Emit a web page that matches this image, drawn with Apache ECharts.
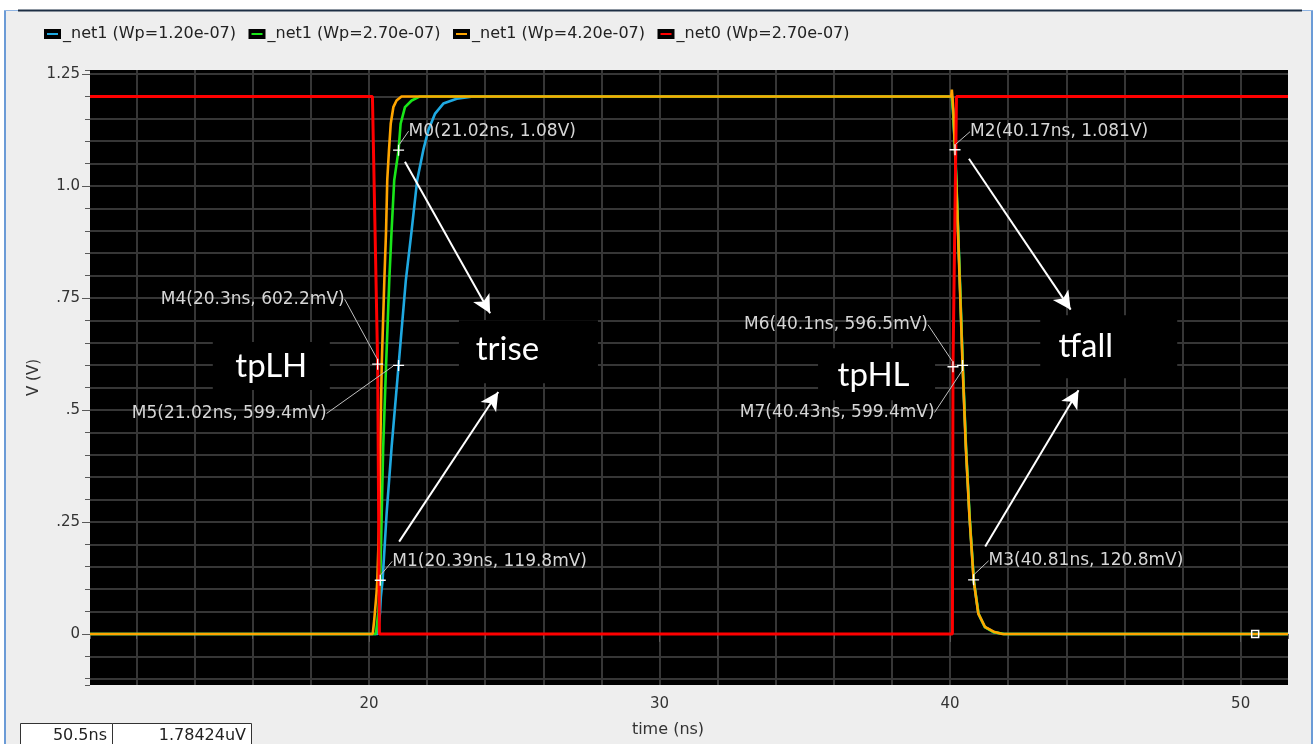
<!DOCTYPE html>
<html>
<head>
<meta charset="utf-8">
<script src="https://cdn.jsdelivr.net/npm/echarts@6/dist/echarts.min.js"></script>
<style>
  html, body { margin: 0; padding: 0; background: #ffffff; }
  #chart { width: 1315px; height: 744px; }
</style>
</head>
<body>
<div id="chart"></div>
<script>
// ---- waveform data (time in ns, voltage in V) ----
const seriesNames = ['_net1 (Wp=1.20e-07)', '_net1 (Wp=2.70e-07)', '_net1 (Wp=4.20e-07)', '_net0 (Wp=2.70e-07)'];

const tNet1Wp120 = [10.4, 20.3, 20.38, 20.41, 20.47, 20.61, 20.78, 21.02, 21.27, 21.47, 21.66, 21.87, 22.04, 22.27, 22.56, 23.02, 23.59,
                    40.06, 40.1, 40.18, 40.27, 40.34, 40.44, 40.55, 40.67, 40.82, 40.98, 41.2, 41.5, 41.85, 51.63];
const vNet1Wp120 = [0, 0, 0.047, 0.083, 0.12, 0.27, 0.417, 0.5994, 0.79, 0.901, 1.013, 1.08, 1.124, 1.161, 1.184, 1.195, 1.2,
                    1.2, 1.17, 1.07, 0.91, 0.78, 0.59, 0.41, 0.26, 0.115, 0.044, 0.015, 0.004, 0, 0];

const tNet1Wp270 = [10.4, 20.24, 20.32, 20.39, 20.44, 20.49, 20.59, 20.7, 20.78, 20.87, 21.02, 21.09, 21.24, 21.47, 21.76,
                    40.06, 40.1, 40.18, 40.27, 40.34, 40.44, 40.55, 40.67, 40.82, 40.98, 41.2, 41.5, 41.85, 51.63];
const vNet1Wp270 = [0, 0, 0.047, 0.1198, 0.27, 0.417, 0.6, 0.79, 0.901, 1.013, 1.08, 1.139, 1.176, 1.191, 1.2,
                    1.2, 1.17, 1.075, 0.915, 0.785, 0.595, 0.415, 0.265, 0.118, 0.045, 0.015, 0.004, 0, 0];

const tNet1Wp420 = [10.4, 20.13, 20.18, 20.26, 20.29, 20.36, 20.39, 20.44, 20.53, 20.59, 20.63, 20.69, 20.75, 20.84, 20.95, 21.12,
                    40.04, 40.06, 40.08, 40.12, 40.17, 40.26, 40.33, 40.43, 40.54, 40.66, 40.81, 40.97, 41.2, 41.5, 41.8, 51.63];
const vNet1Wp420 = [0, 0, 0.03, 0.09, 0.12, 0.27, 0.417, 0.6, 0.79, 0.901, 1.013, 1.08, 1.139, 1.176, 1.191, 1.2,
                    1.2, 1.215, 1.2, 1.16, 1.081, 0.92, 0.79, 0.6, 0.42, 0.27, 0.1208, 0.046, 0.016, 0.005, 0, 0];

const tNet0 = [10.4, 20.12, 20.3, 20.36, 40.08, 40.1, 40.22, 51.63];
const vNet0 = [1.2, 1.2, 0.6022, 0, 0, 0.5965, 1.2, 1.2];

// ---- measurement markers ----
const markerNames = ['M0', 'M1', 'M2', 'M3', 'M4', 'M5', 'M6', 'M7'];
const markerTimes = [21.02, 20.39, 40.17, 40.81, 20.3, 21.02, 40.1, 40.43];
const markerVolts = [1.08, 0.1198, 1.081, 0.1208, 0.6022, 0.5994, 0.5965, 0.5994];

// ---- annotation notes and arrows (data coordinates) ----
const noteNames = ['tpLH', 'trise', 'tpHL', 'tfall'];
const noteTimes = [16.64, 25.49, 37.47, 45.46];
const noteVolts = [0.598, 0.630, 0.580, 0.641];
const arrowFrom = [[21.24, 1.054], [21.04, 0.206], [40.65, 1.061], [41.21, 0.195]];
const arrowTo   = [[24.17, 0.716], [24.45, 0.540], [44.15, 0.724], [44.42, 0.544]];

// ---- cursor readout ----
const cursorTime = 50.5;
const cursorValue = 1.78424e-6;
const cursorValueText = '1.78424uV';

// ---- axis ticks ----
const xTickValues = [20, 30, 40, 50];
const xTickLabels = ['20', '30', '40', '50'];
const yTickValues = [0, 0.25, 0.5, 0.75, 1.0, 1.25];
const yTickLabels = ['0', '.25', '.5', '.75', '1.0', '1.25'];

// ---- styling ----
const seriesColors = ['#1fa9e1', '#19e619', '#ffa500', '#ff0000'];
const uiFont = 'DejaVu Sans';
const X_MIN = 10.4, X_MAX = 51.63, Y_MIN = -0.114, Y_MAX = 1.259;

const markerLabelDx = [10, 12, 15, 15, -33, -72, -25, -28];
const markerLabelDy = [-19, -19, -18, -19, -65, 48, -42, 47];
const markerLabelAlign = ['left', 'left', 'left', 'left', 'right', 'right', 'right', 'right'];
const noteBoxSizes = [[117, 48], [139, 63], [117, 52], [137, 63]];
const noteTextOffsets = [[0, 0], [-21, -2], [-3, 1], [-23, 0]];

function zip(ts, vs) { return ts.map((t, i) => [t, vs[i]]); }
function tickLabel(values, labels) {
  return function (v) {
    for (let i = 0; i < values.length; i++) {
      if (Math.abs(values[i] - v) < 1e-9) return labels[i];
    }
    return '';
  };
}
function fmtVolt(v) {
  return v >= 1 ? v + 'V' : (v * 1000).toFixed(1) + 'mV';
}

const waveData = [zip(tNet1Wp120, vNet1Wp120), zip(tNet1Wp270, vNet1Wp270), zip(tNet1Wp420, vNet1Wp420), zip(tNet0, vNet0)];

const chart = echarts.init(document.getElementById('chart'), null, { renderer: 'canvas' });

const tickColor = '#5a5a5a';
const gridLineColor = '#363636';

const waveSeries = waveData.map((d, i) => ({
  type: 'line',
  name: seriesNames[i],
  data: d,
  xAxisIndex: 0,
  yAxisIndex: 0,
  showSymbol: false,
  symbol: 'none',
  clip: true,
  lineStyle: { color: seriesColors[i], width: i === 3 ? 3 : 2.6 },
  itemStyle: { color: seriesColors[i] },
  z: 2 + i * 0.1,
  silent: true
}));

// legend drawn as swatch + text groups
const legendGraphics = [];
seriesNames.forEach((n, i) => {
  const x0 = 44 + i * 204.5;
  legendGraphics.push({ type: 'rect', shape: { x: x0, y: 29, width: 17, height: 10 }, style: { fill: '#000' } });
  legendGraphics.push({ type: 'rect', shape: { x: x0 + 3, y: 33, width: 11, height: 2 }, style: { fill: seriesColors[i] } });
  legendGraphics.push({ type: 'text', x: x0 + 19, y: 34, style: { text: n, fill: '#222', font: '16px "DejaVu Sans"', verticalAlign: 'middle', align: 'left' } });
});

const frameGraphics = [
  { type: 'rect', shape: { x: 0, y: 0, width: 1315, height: 10 }, style: { fill: '#ffffff' }, z: 100 },
  { type: 'rect', shape: { x: 0, y: 0, width: 4, height: 744 }, style: { fill: '#ffffff' }, z: 100 },
  { type: 'rect', shape: { x: 1313, y: 0, width: 2, height: 744 }, style: { fill: '#ffffff' }, z: 100 },
  { type: 'line', shape: { x1: 5, y1: 10, x2: 5, y2: 744 }, style: { stroke: '#6b9bd6', lineWidth: 2 }, z: 101 },
  { type: 'line', shape: { x1: 1312, y1: 10, x2: 1312, y2: 744 }, style: { stroke: '#6b9bd6', lineWidth: 2 }, z: 101 },
  { type: 'line', shape: { x1: 4, y1: 10.5, x2: 1313, y2: 10.5 }, style: { stroke: '#8fb4e3', lineWidth: 1 }, z: 101 },
  { type: 'line', shape: { x1: 18, y1: 10.5, x2: 1302, y2: 10.5 }, style: { stroke: '#1d2e44', lineWidth: 2 }, z: 102 },
  // cursor readout boxes
  { type: 'rect', shape: { x: 20.5, y: 723.5, width: 92, height: 22 }, style: { fill: '#ffffff', stroke: '#333', lineWidth: 1 }, z: 100 },
  { type: 'rect', shape: { x: 112.5, y: 723.5, width: 139, height: 22 }, style: { fill: '#ffffff', stroke: '#333', lineWidth: 1 }, z: 100 },
  { type: 'text', x: 107, y: 736, style: { text: cursorTime + 'ns', fill: '#222', font: '16px "DejaVu Sans"', align: 'right', verticalAlign: 'middle' }, z: 101 },
  { type: 'text', x: 246, y: 736, style: { text: cursorValueText, fill: '#222', font: '16px "DejaVu Sans"', align: 'right', verticalAlign: 'middle' }, z: 101 }
];

const option = {
  animation: false,
  backgroundColor: '#eeeeee',
  grid: {
    left: 90, top: 70, width: 1198, height: 615,
    show: true, backgroundColor: '#000000', borderWidth: 0,
    containLabel: false
  },
  xAxis: [
    {
      type: 'value', position: 'bottom', min: X_MIN, max: X_MAX,
      minInterval: 10, maxInterval: 10,
      axisLine: { show: false },
      splitLine: { show: false },
      axisTick: { show: true, length: 8, customValues: xTickValues, lineStyle: { color: tickColor, width: 1 } },
      axisLabel: { customValues: xTickValues, formatter: tickLabel(xTickValues, xTickLabels), color: '#333', fontSize: 15, fontFamily: uiFont, margin: 12 },
      name: 'time (ns)', nameLocation: 'middle', nameGap: 37,
      nameTextStyle: { color: '#333', fontSize: 16, fontFamily: uiFont, padding: [0, 42, 0, 0] }
    },
    {
      type: 'value', position: 'bottom', min: X_MIN, max: X_MAX,
      minInterval: 2, maxInterval: 2,
      axisLine: { show: false },
      axisLabel: { show: false },
      axisTick: { show: true, length: 5, lineStyle: { color: tickColor, width: 1 } },
      splitLine: { show: true, showMinLine: false, showMaxLine: false, lineStyle: { color: gridLineColor, width: 2 } }
    }
  ],
  yAxis: [
    {
      type: 'value', position: 'left', min: Y_MIN, max: Y_MAX,
      minInterval: 0.25, maxInterval: 0.25,
      axisLine: { show: false },
      splitLine: { show: false },
      axisTick: { show: true, length: 8, customValues: yTickValues, lineStyle: { color: tickColor, width: 1 } },
      axisLabel: { customValues: yTickValues, formatter: tickLabel(yTickValues, yTickLabels), color: '#333', fontSize: 15, fontFamily: uiFont, margin: 10 },
      name: 'V (V)', nameLocation: 'middle', nameGap: 48, nameRotate: 90, nameMoveOverlap: false,
      nameTextStyle: { color: '#333', fontSize: 15, fontFamily: uiFont }
    },
    {
      type: 'value', position: 'left', min: Y_MIN, max: Y_MAX,
      minInterval: 0.05, maxInterval: 0.05,
      axisLine: { show: false },
      axisLabel: { show: false },
      axisTick: { show: true, length: 5, lineStyle: { color: tickColor, width: 1 } },
      splitLine: { show: true, showMinLine: false, showMaxLine: false, lineStyle: { color: gridLineColor, width: 2 } }
    }
  ],
  graphic: { elements: legendGraphics.concat(frameGraphics) },
  series: waveSeries.concat([
    {
      type: 'scatter',
      name: 'notes',
      xAxisIndex: 0, yAxisIndex: 0,
      silent: true,
      symbol: 'rect',
      z: 3,
      itemStyle: { color: '#000000', opacity: 1 },
      data: noteNames.map((n, i) => ({
        name: n,
        value: [noteTimes[i], noteVolts[i]],
        symbolSize: noteBoxSizes[i],
        label: { offset: noteTextOffsets[i] }
      })),
      label: {
        show: true, position: 'inside', formatter: '{b}',
        color: '#ffffff', fontSize: 33, fontFamily: 'Lato'
      },
      markLine: {
        silent: true,
        animation: false,
        symbol: ['none', 'arrow'],
        symbolSize: [14, 18],
        label: { show: false },
        lineStyle: { color: '#ffffff', width: 2, type: 'solid', opacity: 1 },
        emphasis: { disabled: true },
        data: arrowFrom.map((f, i) => [{ coord: f }, { coord: arrowTo[i] }])
      }
    },
    {
      type: 'scatter',
      name: 'cursor',
      xAxisIndex: 0, yAxisIndex: 0,
      silent: true,
      symbol: 'rect',
      symbolSize: 7,
      z: 6,
      itemStyle: { color: 'rgba(0,0,0,0)', borderColor: '#ffffff', borderWidth: 1.5, opacity: 1 },
      data: [[cursorTime, cursorValue]]
    },
    {
      type: 'scatter',
      name: 'markers',
      xAxisIndex: 0, yAxisIndex: 0,
      silent: true,
      z: 7,
      symbol: 'path://M4.4,0h1.2v4.4h4.4v1.2h-4.4v4.4h-1.2v-4.4h-4.4v-1.2h4.4z',
      symbolSize: 11,
      itemStyle: { color: '#ffffff', opacity: 1 },
      data: markerNames.map((n, i) => ({ name: n, value: [markerTimes[i], markerVolts[i]] })),
      label: {
        show: true,
        position: 'inside',
        formatter: p => p.name + '(' + p.value[0] + 'ns, ' + fmtVolt(p.value[1]) + ')',
        color: '#d6d6d6', fontSize: 17, fontFamily: uiFont
      },
      labelLine: { show: true, lineStyle: { color: '#c0c0c0', width: 1 } },
      labelLayout: function (p) {
        const i = p.dataIndex;
        const cx = p.rect.x + p.rect.width / 2;
        const cy = p.rect.y + p.rect.height / 2;
        return { x: cx + markerLabelDx[i], y: cy + markerLabelDy[i], align: markerLabelAlign[i], verticalAlign: 'middle' };
      }
    }
  ])
};

chart.setOption(option);
</script>
</body>
</html>
